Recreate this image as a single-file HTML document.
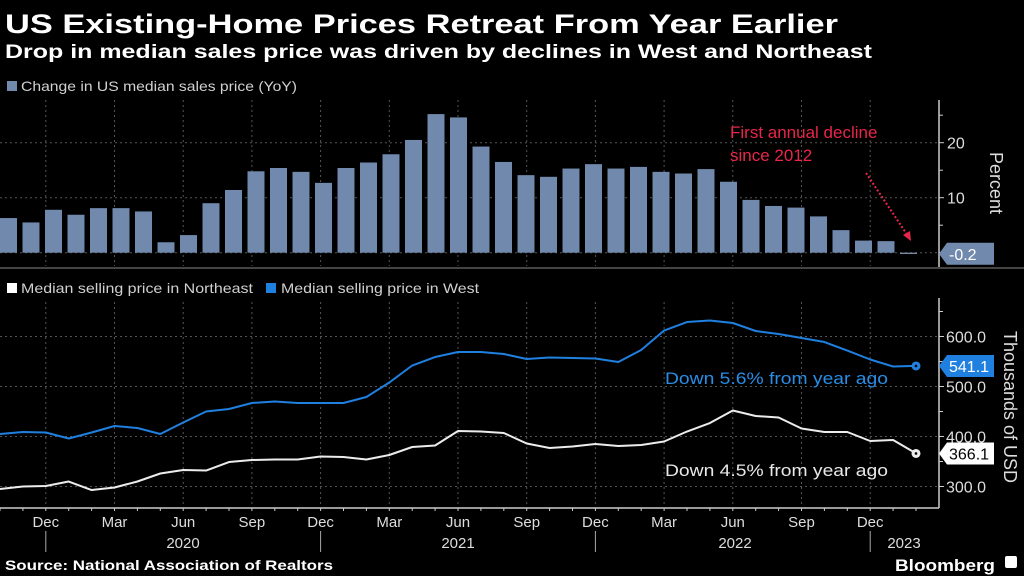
<!DOCTYPE html>
<html><head><meta charset="utf-8">
<style>
html,body{margin:0;padding:0;background:#000;}
svg{display:block;font-family:"Liberation Sans",sans-serif;}
</style></head>
<body>
<svg id="chart" width="1024" height="576" viewBox="0 0 1024 576" xmlns="http://www.w3.org/2000/svg">
<rect x="0" y="0" width="1024" height="576" fill="#000"/>
<text x="5" y="33" fill="#fff" font-size="27" font-weight="bold" textLength="833" lengthAdjust="spacingAndGlyphs">US Existing-Home Prices Retreat From Year Earlier</text>
<text x="5" y="58" fill="#fff" font-size="19" font-weight="bold" textLength="867" lengthAdjust="spacingAndGlyphs">Drop in median sales price was driven by declines in West and Northeast</text>
<rect x="7" y="81" width="10" height="10" fill="#7189ad"/>
<text x="21" y="91" fill="#d0d0d0" font-size="14" textLength="276" lengthAdjust="spacingAndGlyphs">Change in US median sales price (YoY)</text>
<rect x="7" y="283" width="10" height="10" fill="#fff"/>
<text x="21" y="293" fill="#d0d0d0" font-size="14" textLength="232" lengthAdjust="spacingAndGlyphs">Median selling price in Northeast</text>
<rect x="266" y="283" width="10" height="10" fill="#1f80e0"/>
<text x="281" y="293" fill="#d0d0d0" font-size="14" textLength="198" lengthAdjust="spacingAndGlyphs">Median selling price in West</text>
<g id="grid"></g>
<g id="bars"></g>
<g id="lines"></g>
<g id="axes"></g>
<text x="730" y="138" fill="#e8264a" font-size="17">First annual decline</text>
<text x="730" y="161" fill="#e8264a" font-size="17">since 2012</text>
<line x1="866" y1="173" x2="908" y2="236" stroke="#e8264a" stroke-width="2" stroke-dasharray="2,2"/>
<polygon points="911,241 903,235 910,231" fill="#e8264a"/>
<text x="665" y="384" fill="#2a8de6" font-size="17" textLength="223" lengthAdjust="spacingAndGlyphs">Down 5.6% from year ago</text>
<text x="665" y="476" fill="#e8e8e8" font-size="17" textLength="223" lengthAdjust="spacingAndGlyphs">Down 4.5% from year ago</text>
<text x="5" y="570" fill="#fff" font-size="14" font-weight="bold" textLength="328" lengthAdjust="spacingAndGlyphs">Source: National Association of Realtors</text>
<text x="895" y="571" fill="#fff" font-size="17" font-weight="bold" textLength="100" lengthAdjust="spacingAndGlyphs">Bloomberg</text>
<rect x="1005" y="556" width="12" height="12" rx="2" fill="#fff"/>
</svg>
<script>
const yoyValues=[6.3,5.5,7.8,6.9,8.1,8.1,7.5,1.9,3.2,9.0,11.4,14.8,15.4,14.7,12.7,15.4,16.4,17.9,20.5,25.2,24.6,19.3,16.5,14.1,13.8,15.3,16.1,15.3,15.6,14.7,14.4,15.2,12.9,9.6,8.5,8.2,6.6,4.1,2.2,2.1,-0.2];
const westValues=[405,409,408,396,408,421,417,405,428,450,455,467,470,467,467,467,479,508,542,559,569,569,565,555,558,557,556,549,573,612,629,632,627,611,605,597,589,572,554,540,541.1];
const northeastValues=[295,300,301,310,293,298,310,326,333,332,349,353,354,354,360,359,354,363,379,382,411,410,407,386,377,380,385,381,383,390,410,427,452,441,438,416,409,409,391,393,366.1];
const pctTicks=[0,10,20];
const priceTicks=[300,400,500,600];
const monthLabels=["Dec","Mar","Jun","Sep","Dec","Mar","Jun","Sep","Dec","Mar","Jun","Sep","Dec"];
const yearLabels=["2020","2021","2022","2023"];

const NS="http://www.w3.org/2000/svg";
function mk(parent,tag,attrs,text){const e=document.createElementNS(NS,tag);for(const k in attrs)e.setAttribute(k,attrs[k]);if(text!==undefined)e.textContent=text;parent.appendChild(e);return e;}
const yPct=v=>252.7-v*5.5;
const yPrice=v=>336.5+(600-v)*0.5;
const xBar=i=>8.5+22.5*i;
const xLine=i=>22.9*i;
const xQuarter=k=>45.8+68.7*k;
const AX=939;
const grid=document.getElementById('grid'),bars=document.getElementById('bars'),lines=document.getElementById('lines'),axes=document.getElementById('axes');

// vertical grid
monthLabels.forEach((m,k)=>{
  const x=xQuarter(k);
  let g=mk(grid,'line',{x1:x,x2:x,y1:100,y2:266,stroke:'#555','stroke-dasharray':'2,3','stroke-width':1});
  
  
  g=mk(grid,'line',{x1:x,x2:x,y1:302,y2:507,stroke:'#555','stroke-dasharray':'2,3','stroke-width':1});
  
  
  const t=mk(axes,'text',{x:x,y:527,fill:'#ddd','font-size':15,'text-anchor':'middle'},m);
  
  
});
pctTicks.forEach(v=>{
  const y=yPct(v);
  let g=mk(grid,'line',{x1:0,x2:AX,y1:y,y2:y,stroke:'#555','stroke-dasharray':'2,3'});
  
  
  mk(axes,'line',{x1:AX,x2:AX+5,y1:y,y2:y,stroke:'#ccc'});
  if(v>0){const t=mk(axes,'text',{x:947,y:y+6,fill:'#ddd','font-size':16},String(v));
  
  }
});
[5,15,25].forEach(v=>mk(axes,'line',{x1:AX,x2:AX+4,y1:yPct(v),y2:yPct(v),stroke:'#ccc'}));
priceTicks.forEach(v=>{
  const y=yPrice(v);
  let g=mk(grid,'line',{x1:0,x2:AX,y1:y,y2:y,stroke:'#555','stroke-dasharray':'2,3'});
  
  
  mk(axes,'line',{x1:AX,x2:AX+5,y1:y,y2:y,stroke:'#ccc'});
  const t=mk(axes,'text',{x:946,y:y+6,fill:'#ddd','font-size':16},v.toFixed(1));
  
  
});
[350,450,550,650].forEach(v=>mk(axes,'line',{x1:AX,x2:AX+4,y1:yPrice(v),y2:yPrice(v),stroke:'#ccc'}));

// bars
yoyValues.forEach((v,i)=>{
  const y0=yPct(0),y1=yPct(v);
  const h=Math.max(Math.abs(y0-y1),1.2);
  const b=mk(bars,'rect',{x:xBar(i)-8.5,y:Math.min(y0,y1),width:17,height:h,fill:v<0?'#8a9ab5':'#7189ad'});
  
  
});

// lines
function drawLine(vals,color,name){
  const pts=vals.map((v,i)=>xLine(i).toFixed(1)+','+yPrice(v).toFixed(1)).join(' ');
  const p=mk(lines,'polyline',{points:pts,fill:'none',stroke:color,'stroke-width':2,'stroke-linejoin':'round'});
  
  
  const n=vals.length-1;
  const c=mk(lines,'circle',{cx:xLine(n),cy:yPrice(vals[n]),r:4.5,fill:color});
  
  
  mk(lines,'circle',{cx:xLine(n),cy:yPrice(vals[n]),r:1.3,fill:'#000'});
}
drawLine(westValues,'#1f80e0','west-line');
drawLine(northeastValues,'#ececec','northeast-line');

// axes
mk(axes,'line',{x1:AX,x2:AX,y1:100,y2:267,stroke:'#ccc','stroke-width':1.5});
mk(axes,'line',{x1:0,x2:1024,y1:268,y2:268,stroke:'#444','stroke-width':2});
mk(axes,'line',{x1:AX,x2:AX,y1:298,y2:508,stroke:'#ccc','stroke-width':1.5});
mk(axes,'line',{x1:0,x2:AX,y1:508,y2:508,stroke:'#ccc','stroke-width':1.5});
for(let i=0;i<=40;i++){mk(axes,'line',{x1:xLine(i),x2:xLine(i),y1:508,y2:511,stroke:'#ccc'});}
[0,4,8,12].forEach((k,j)=>{
  const x=xQuarter(k);
  mk(axes,'line',{x1:x,x2:x,y1:531,y2:552,stroke:'#aaa'});
});
const yearX=[183,458,735,904];
yearLabels.forEach((y,j)=>{
  const t=mk(axes,'text',{x:yearX[j],y:548,fill:'#ddd','font-size':15,'text-anchor':'middle'},y);
  
  
});

// value flags
function flag(y,fill,txtColor,label,name){
  const g=mk(axes,'g',{});
  
  
  mk(g,'polygon',{points:`${AX},${y} ${AX+8},${y-11} ${AX+55},${y-11} ${AX+55},${y+11} ${AX+8},${y+11}`,fill:fill});
  mk(g,'text',{x:AX+10,y:y+6,fill:txtColor,'font-size':16},label);
}
flag(yPct(yoyValues[yoyValues.length-1]),'#7189ad','#fff',yoyValues[yoyValues.length-1].toFixed(1),'value-flag-yoy');
flag(yPrice(westValues[westValues.length-1]),'#1f80e0','#fff',westValues[westValues.length-1].toFixed(1),'value-flag-west');
flag(yPrice(northeastValues[northeastValues.length-1]),'#fff','#000',northeastValues[northeastValues.length-1].toFixed(1),'value-flag-northeast');

// axis titles
let t=mk(axes,'text',{transform:'translate(990,183) rotate(90)',fill:'#ddd','font-size':18,'text-anchor':'middle'},'Percent');


t=mk(axes,'text',{transform:'translate(1004,407) rotate(90)',fill:'#ddd','font-size':18,'text-anchor':'middle'},'Thousands of USD');


</script>
</body></html>
